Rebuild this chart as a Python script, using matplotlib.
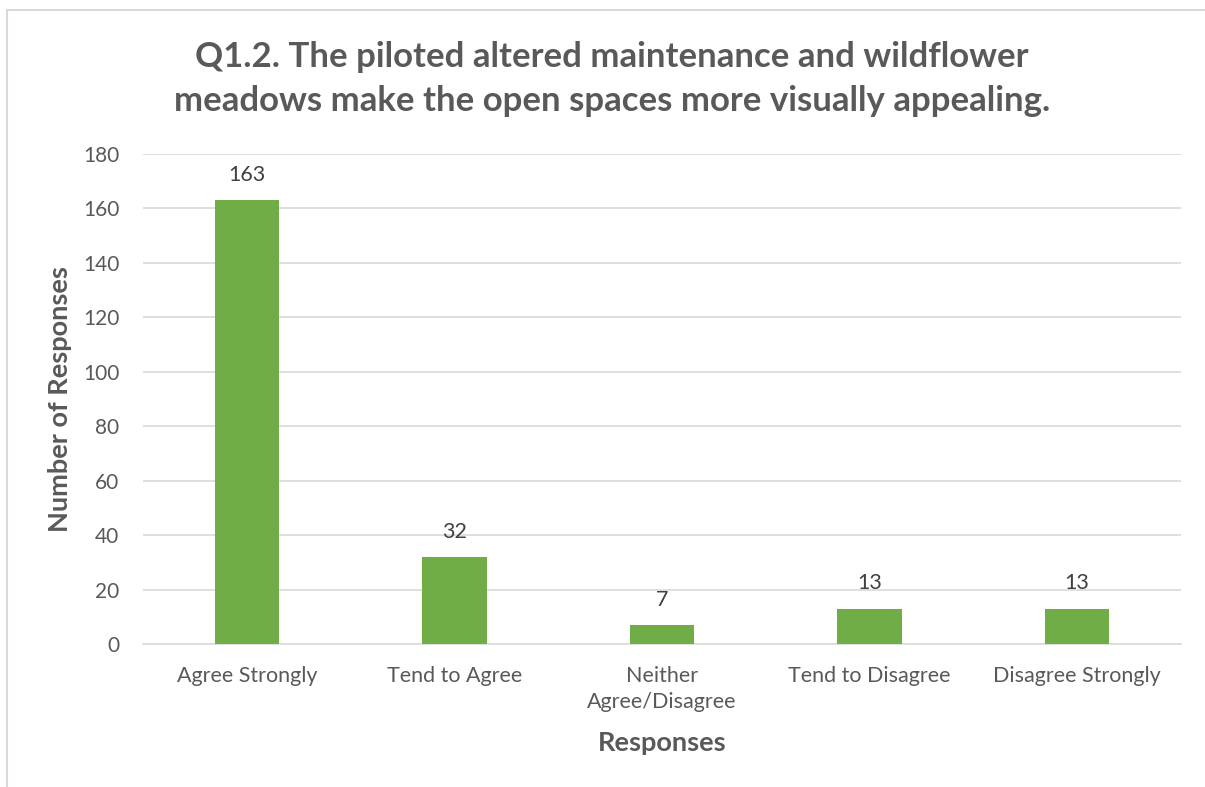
import matplotlib
matplotlib.use("Agg")
import matplotlib.pyplot as plt
from matplotlib.lines import Line2D

categories = ["Agree Strongly", "Tend to Agree", "Neither\nAgree/Disagree",
              "Tend to Disagree", "Disagree Strongly"]
counts = [163, 32, 7, 13, 13]
y_ticks = [0, 20, 40, 60, 80, 100, 120, 140, 160, 180]

TEXT = "#595959"
GRID = "#D9D9D9"
BAR = "#70AD47"

plt.rcParams["font.family"] = ["Lato", "DejaVu Sans"]

fig = plt.figure(figsize=(12.05, 7.87), dpi=100)
ax = fig.add_axes([0.1187, 0.1817, 0.8613, 0.6226])

x = list(range(len(categories)))
bars = ax.bar(x, counts, width=0.31, color=BAR, zorder=3)
for rect, v in zip(bars, counts):
    ax.annotate(str(v), (rect.get_x() + rect.get_width() / 2, v),
                xytext=(0, 11), textcoords="offset points",
                ha="center", va="bottom", fontsize=15.5, color="#404040")

ax.set_xlim(-0.5, len(categories) - 0.5)
ax.set_ylim(0, 180)
ax.set_yticks(y_ticks)
ax.set_xticks(x)
ax.set_xticklabels(categories, fontsize=15.5, color=TEXT, linespacing=1.35)
ax.tick_params(axis="y", labelsize=15, labelcolor=TEXT, length=0, pad=17)
ax.tick_params(axis="x", length=0, pad=16)
ax.grid(axis="y", color=GRID, linewidth=1.2, zorder=0)
for s in ["top", "right", "left"]:
    ax.spines[s].set_visible(False)
ax.spines["bottom"].set_color(GRID)
ax.spines["bottom"].set_linewidth(1.2)

ax.set_xlabel("Responses", fontsize=19.5, fontweight="bold", color=TEXT, labelpad=14)
ax.set_ylabel("Number of Responses", fontsize=19.5, fontweight="bold", color=TEXT, labelpad=8)

fig.text(0.508, 0.9, "Q1.2. The piloted altered maintenance and wildflower\n"
         "meadows make the open spaces more visually appealing.",
         ha="center", va="center", fontsize=25, fontweight="bold", color=TEXT,
         linespacing=1.45)

# chart frame (only top and left edges visible)
fig.add_artist(Line2D([7 / 1205, 1.0], [1 - 10 / 787, 1 - 10 / 787],
                      transform=fig.transFigure, color=GRID, linewidth=1.5))
fig.add_artist(Line2D([7 / 1205, 7 / 1205], [0.0, 1 - 10 / 787],
                      transform=fig.transFigure, color=GRID, linewidth=1.5))

fig.savefig("out.png", dpi=100, facecolor="white")
